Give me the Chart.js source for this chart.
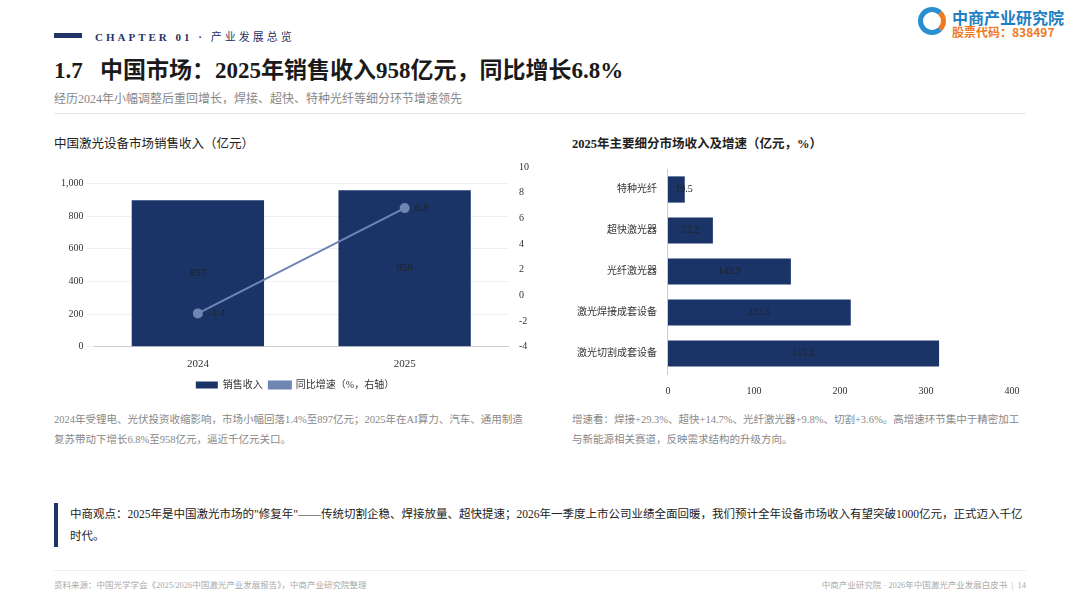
<!DOCTYPE html>
<html>
<head>
<meta charset="utf-8">
<script src="https://cdn.jsdelivr.net/npm/chart.js@4.4.0/dist/chart.umd.min.js"></script>
<style>
  body { margin: 0; width: 1080px; height: 608px; background: #fff; position: relative; overflow: hidden;
         font-family: "Liberation Serif", "Noto Sans CJK SC", serif; color: #222; }
  .abs { position: absolute; }
  .sub { color: #888; font-size: 12px; }
  .note { color: #888; font-size: 10.5px; line-height: 20px; }
</style>
</head>
<body>
<div class="abs" style="left:54px;top:33px;width:28px;height:5px;background:#1f3567"></div>
<div class="abs" style="left:95px;top:28px;font-size:11px;letter-spacing:3px;color:#1f3567;font-weight:bold">CHAPTER 01 · <span style="font-weight:normal">产业发展总览</span></div>
<div class="abs" style="left:54px;top:51px;font-size:23px;font-weight:bold;color:#1a1a1a">1.7&nbsp;&nbsp;&nbsp;中国市场：2025年销售收入958亿元，同比增长6.8%</div>
<div class="abs sub" style="left:54px;top:89px">经历2024年小幅调整后重回增长，焊接、超快、特种光纤等细分环节增速领先</div>
<div class="abs" style="left:54px;top:113px;width:972px;height:1px;background:#e5e5e5"></div>

<div class="abs" style="left:918px;top:7px;width:28px;height:28px;border-radius:50%;border:5px solid #2a8fd0;border-right-color:#f07a1e;box-sizing:border-box"></div>
<div class="abs" style="left:952px;top:5px;font-family:'Noto Sans CJK SC';font-weight:bold;color:#1f7fc4;font-size:16px">中商产业研究院</div>
<div class="abs" style="left:952px;top:23px;font-family:'Noto Sans CJK SC';font-weight:bold;color:#f07a1e;font-size:12px">股票代码：838497</div>

<div class="abs" style="left:54px;top:133px;font-size:12.5px">中国激光设备市场销售收入（亿元）</div>
<div class="abs" style="left:572px;top:133px;font-size:12.5px;font-weight:bold">2025年主要细分市场收入及增速（亿元，%）</div>

<div class="abs" style="left:40px;top:158px;width:510px;height:242px"><canvas id="c1"></canvas></div>
<div class="abs" style="left:560px;top:160px;width:480px;height:240px"><canvas id="c2"></canvas></div>

<div class="abs note" style="left:54px;top:410px;width:475px">2024年受锂电、光伏投资收缩影响，市场小幅回落1.4%至897亿元；2025年在AI算力、汽车、通用制造复苏带动下增长6.8%至958亿元，逼近千亿元关口。</div>
<div class="abs note" style="left:572px;top:410px;width:455px">增速看：焊接+29.3%、超快+14.7%、光纤激光器+9.8%、切割+3.6%。高增速环节集中于精密加工与新能源相关赛道，反映需求结构的升级方向。</div>

<div class="abs" style="left:54px;top:503px;width:4px;height:44px;background:#1f3567"></div>
<div class="abs" style="left:70px;top:503px;width:958px;font-size:11.5px;line-height:22px;color:#222">中商观点：2025年是中国激光市场的"修复年"——传统切割企稳、焊接放量、超快提速；2026年一季度上市公司业绩全面回暖，我们预计全年设备市场收入有望突破1000亿元，正式迈入千亿时代。</div>

<div class="abs" style="left:54px;top:570px;width:972px;height:1px;background:#eee"></div>
<div class="abs" style="left:54px;top:578px;font-size:8.5px;color:#aaa">资料来源：中国光学学会《2025/2026中国激光产业发展报告》，中商产业研究院整理</div>
<div class="abs" style="right:54px;top:578px;font-size:8.5px;color:#aaa">中商产业研究院 · 2026年中国激光产业发展白皮书 &nbsp;|&nbsp; 14</div>

<script>
var years = ["2024", "2025"];
var revenue = [897, 958];
var growth = [-1.4, 6.8];
var segNames = ["特种光纤", "超快激光器", "光纤激光器", "激光焊接成套设备", "激光切割成套设备"];
var segValues = [19.5, 52.2, 142.9, 212.5, 315.2];

var navy = "#1b3468";
var lineColor = "#6f86b3";
Chart.defaults.font = { family: "'Liberation Serif', 'Noto Sans CJK SC'", size: 11 };
Chart.defaults.color = "#333";

var labels1 = {
    id: "labels1",
    afterDatasetsDraw: function (chart) {
        var ctx = chart.ctx;
        ctx.save();
        ctx.font = "11px 'Liberation Serif'";
        ctx.fillStyle = "#222";
        ctx.textBaseline = "middle";
        chart.getDatasetMeta(0).data.forEach(function (bar, i) {
            ctx.textAlign = "center";
            ctx.fillText(revenue[i], bar.x, (bar.y + bar.base) / 2);
        });
        chart.getDatasetMeta(1).data.forEach(function (pt, i) {
            ctx.textAlign = "left";
            ctx.fillText(growth[i], pt.x + 10, pt.y);
        });
        ctx.restore();
    }
};

new Chart(document.getElementById("c1"), {
    type: "bar",
    data: {
        labels: years,
        datasets: [{
            label: "销售收入",
            data: revenue,
            backgroundColor: navy,
            yAxisID: "y",
            barPercentage: 0.64,
            categoryPercentage: 1,
            order: 2
        }, {
            type: "line",
            label: "同比增速（%，右轴）",
            data: growth,
            borderColor: lineColor,
            backgroundColor: lineColor,
            borderWidth: 2,
            pointRadius: 4,
            yAxisID: "y1",
            order: 1
        }]
    },
    options: {
        responsive: true,
        maintainAspectRatio: false,
        animation: false,
        layout: { padding: { left: 18, right: 18, top: 4 } },
        plugins: {
            legend: {
                position: "bottom",
                labels: {
                    boxWidth: 22, boxHeight: 7, padding: 6, color: "#333", font: { size: 10 },
                    sort: function (a, b) { return a.datasetIndex - b.datasetIndex; }
                }
            },
            tooltip: { enabled: false }
        },
        scales: {
            x: { grid: { display: false }, border: { color: "#ccc" }, ticks: { font: { size: 11 } } },
            y: {
                min: 0, max: 1100,
                afterBuildTicks: function (axis) {
                    axis.ticks = [0, 200, 400, 600, 800, 1000].map(function (v) { return { value: v }; });
                },
                ticks: { font: { size: 10 }, callback: function (v) { return v.toLocaleString("en-US"); } },
                grid: { color: "#eef0f5" },
                border: { display: false }
            },
            y1: {
                position: "right",
                min: -4, max: 10,
                ticks: { stepSize: 2, font: { size: 10 } },
                grid: { display: false },
                border: { display: false }
            }
        }
    },
    plugins: [labels1]
});

var labels2 = {
    id: "labels2",
    afterDatasetsDraw: function (chart) {
        var ctx = chart.ctx;
        ctx.save();
        ctx.font = "10px 'Liberation Serif'";
        ctx.fillStyle = "#222";
        ctx.textAlign = "center";
        ctx.textBaseline = "middle";
        chart.getDatasetMeta(0).data.forEach(function (bar, i) {
            var cx = Math.max((bar.x + bar.base) / 2, bar.base + 16);
            ctx.fillText(segValues[i].toFixed(1), cx, bar.y);
        });
        ctx.restore();
    }
};

new Chart(document.getElementById("c2"), {
    type: "bar",
    data: {
        labels: segNames,
        datasets: [{ data: segValues, backgroundColor: navy, barPercentage: 0.64, categoryPercentage: 1 }]
    },
    options: {
        indexAxis: "y",
        responsive: true,
        maintainAspectRatio: false,
        animation: false,
        layout: { padding: { left: 14, right: 28 } },
        plugins: { legend: { display: false }, tooltip: { enabled: false } },
        scales: {
            x: { min: 0, max: 400, ticks: { stepSize: 100, font: { size: 10 } }, grid: { display: false }, border: { display: false } },
            y: { grid: { display: false }, border: { color: "#ccc" }, ticks: { font: { size: 10 }, color: "#333" } }
        }
    },
    plugins: [labels2]
});
</script>
</body>
</html>
